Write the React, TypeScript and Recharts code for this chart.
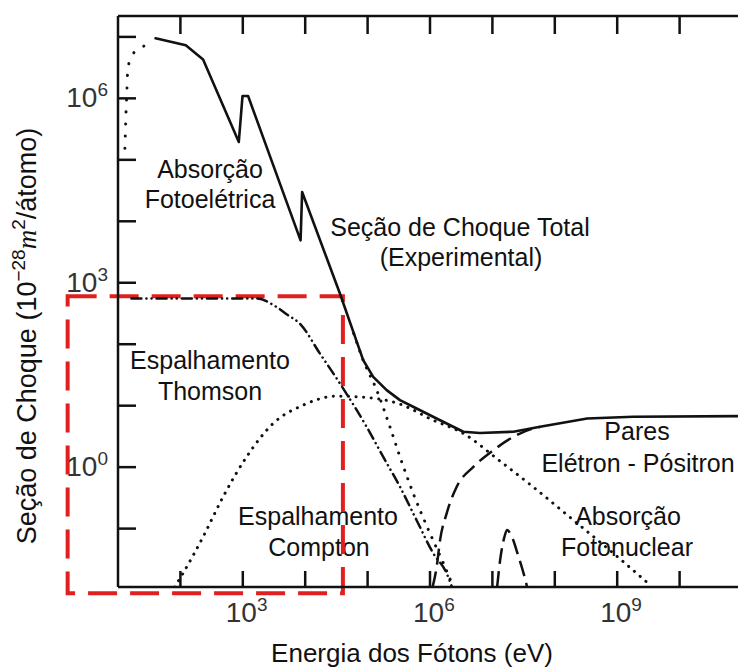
import { ComposedChart, Line, XAxis, YAxis, ReferenceArea } from "recharts";

// Photon energy (eV) and cross section (1e-28 m²/atom) for each process
const totalE = [40, 122, 231, 863, 989, 1216, 8430, 8930, 3.6e4, 8.5e4, 1.23e5, 2.02e5, 3.3e5, 6.1e5, 1.45e6, 3.42e6, 6.3e6, 2.17e7, 5.8e7, 3.3e8, 1.8e9, 8.7e10, 1e11];
const totalS = [9.5e6, 7.3e6, 4.3e6, 1.95e5, 1.09e6, 1.09e6, 4900, 3.0e4, 667, 55, 29.4, 17.9, 12.3, 9.0, 5.8, 3.77, 3.6, 3.77, 4.53, 6.2, 6.6, 6.75, 6.75];

const photoLowE = [12.9, 13.5, 13.9, 14.1, 15, 17.4, 26, 34.7];
const photoLowS = [1.54e5, 6.4e5, 1.32e6, 2.17e6, 3.75e6, 5.3e6, 7.1e6, 9.1e6];

const photoHighE = [6e4, 8.5e4, 1.4e5, 2.28e5, 3.3e5, 5.4e5, 1e6, 1.64e6, 2.37e6];
const photoHighS = [148, 55, 17.9, 4.52, 1.47, 0.373, 0.0835, 0.0272, 0.0112];

const thomsonE = [16.4, 1660, 3470, 5270, 8200, 1.72e4, 3.6e4, 9.66e4, 1.78e5, 3.3e5, 6.1e5, 1.13e6, 1.85e6, 2.25e6];
const thomsonS = [553, 553, 404, 298, 217, 70.6, 23, 4.52, 1.47, 0.479, 0.137, 0.0395, 0.0187, 0.0112];

const comptonE = [81, 110, 231, 483, 1150, 3060, 9270, 3.18e4, 7.5e4, 3.3e5, 1.13e6, 3.42e6, 1.33e7, 4.54e7, 1.99e8, 8.73e8, 3.39e9];
const comptonS = [0.0112, 0.0187, 0.0736, 0.329, 1.47, 5.13, 10.2, 14.3, 13.9, 10.6, 5.8, 3.53, 1.25, 0.473, 0.137, 0.0395, 0.012];

const pairE = [1.1e6, 1.28e6, 1.45e6, 1.85e6, 2.68e6, 4.96e6, 1.04e7, 2.17e7, 4.54e7, 5.8e7];
const pairS = [0.0112, 0.0239, 0.065, 0.177, 0.479, 1.01, 1.89, 3.11, 4.26, 4.5];

const nuclearE = [1.19e7, 1.33e7, 1.54e7, 1.72e7, 2.0e7, 2.58e7, 3.22e7, 3.6e7];
const nuclearS = [0.0112, 0.0307, 0.07, 0.0946, 0.078, 0.037, 0.0175, 0.0112];

const xTicks = [1e2, 1e3, 1e4, 1e5, 1e6, 1e7, 1e8, 1e9, 1e10];
const yTicks = [1e-1, 1, 1e1, 1e2, 1e3, 1e4, 1e5, 1e6, 1e7];
const xLabelExps = [3, 6, 9];
const yLabelExps = [0, 3, 6];

// highlighted low-energy region (Thomson scattering)
const boxE = [1.56, 4.02e4];
const boxS = [0.0089, 603];

const xDomain = [10, 1e11];
const yDomain = [Math.pow(10, -1.95), Math.pow(10, 7.34)];

// chart geometry (plot box runs from PLOT_LEFT to PLOT_RIGHT, top frame at PLOT_TOP)
const CHART_W = 745;
const CHART_H = 668;
const MARGIN = { top: 0, right: 3, bottom: 21, left: 0 };
const Y_AXIS_W = 118;
const TOP_AXIS_H = 16;
const PLOT_LEFT = MARGIN.left + Y_AXIS_W;
const PLOT_RIGHT = CHART_W - MARGIN.right;
const PLOT_TOP = MARGIN.top + TOP_AXIS_H;

const FONT = '"Liberation Sans", Arial, sans-serif';
const INK = "#111";
const TICK_TEXT = "#333";
const RED = "#e0201e";

const toPoints = (e: number[], s: number[]) => e.map((v, i) => ({ e: v, s: s[i] }));

const expOf = (v: number) => Math.round(Math.log10(v));

// same log mapping as the x axis, used for the marks on the top frame
const logX = (v: number) => {
  const lo = Math.log10(xDomain[0]);
  const hi = Math.log10(xDomain[1]);
  return PLOT_LEFT + ((Math.log10(v) - lo) / (hi - lo)) * (PLOT_RIGHT - PLOT_LEFT);
};

function BottomTick({ x, y, payload }: any) {
  const exp = expOf(payload.value);
  return (
    <g>
      <path d={`M${x},${y}v-16`} stroke={INK} strokeWidth={2.5} />
      {xLabelExps.includes(exp) && (
        <text x={x - 17} y={y + 35} fill={TICK_TEXT} style={{ fontFamily: FONT, fontSize: 28 }}>
          10<tspan dy={-11} style={{ fontSize: 19 }}>{exp}</tspan>
        </text>
      )}
    </g>
  );
}

function LeftTick({ x, y, payload }: any) {
  const exp = expOf(payload.value);
  return (
    <g>
      <path d={`M${x},${y}h18`} stroke={INK} strokeWidth={2.5} />
      {yLabelExps.includes(exp) && (
        <text x={x - 10} y={y + 9} textAnchor="end" fill={TICK_TEXT} style={{ fontFamily: FONT, fontSize: 28 }}>
          10<tspan dy={-11} style={{ fontSize: 19 }}>{exp}</tspan>
        </text>
      )}
    </g>
  );
}

const notes = [
  { x: 210, y: 178, text: "Absorção" },
  { x: 210, y: 208, text: "Fotoelétrica" },
  { x: 460, y: 236, text: "Seção de Choque Total" },
  { x: 461, y: 266, text: "(Experimental)" },
  { x: 210, y: 369, text: "Espalhamento" },
  { x: 210, y: 400, text: "Thomson" },
  { x: 318, y: 525, text: "Espalhamento" },
  { x: 319, y: 556, text: "Compton" },
  { x: 637, y: 440, text: "Pares" },
  { x: 638, y: 472, text: "Elétron - Pósitron" },
  { x: 628, y: 525, text: "Absorção" },
  { x: 627, y: 556, text: "Fotonuclear" },
];

export default function App() {
  const lineProps = {
    xAxisId: "bottom",
    yAxisId: "left",
    dataKey: "s",
    stroke: INK,
    dot: false,
    activeDot: false,
    isAnimationActive: false,
    strokeLinecap: "round" as const,
  };

  return (
    <div style={{ position: "absolute", left: 0, top: 0, width: 738, height: 668, overflow: "hidden", background: "#fff" }}>
      <svg width={738} height={668} style={{ position: "absolute", left: 0, top: 0 }}>
        {notes.map((n, i) => (
          <text key={i} x={n.x} y={n.y} textAnchor="middle" fontFamily={FONT} fontSize={25} fill={INK}>
            {n.text}
          </text>
        ))}
        <text x={412} y={662} textAnchor="middle" fontFamily={FONT} fontSize={26} fill={INK}>
          Energia dos Fótons (eV)
        </text>
        <text transform="translate(36,336) rotate(-90)" textAnchor="middle" fontFamily={FONT} fontSize={27} fill={INK}>
          Seção de Choque (10
          <tspan dy={-11} fontSize={19}>−28</tspan>
          <tspan dy={11} fontFamily='"Liberation Serif", serif' fontStyle="italic">m</tspan>
          <tspan dy={-11} fontSize={19}>2</tspan>
          <tspan dy={11}>/átomo)</tspan>
        </text>
      </svg>
      <div style={{ position: "absolute", left: 0, top: 0 }}>
        <ComposedChart width={CHART_W} height={CHART_H} margin={MARGIN}>
          <XAxis
            xAxisId="bottom"
            dataKey="e"
            type="number"
            scale="log"
            domain={xDomain}
            allowDataOverflow
            ticks={xTicks}
            interval={0}
            height={60}
            tickSize={0}
            tickMargin={0}
            tickLine={false}
            axisLine={{ stroke: INK, strokeWidth: 2.5 }}
            tick={BottomTick}
          />
          <XAxis
            xAxisId="top"
            orientation="top"
            dataKey="e"
            type="number"
            scale="log"
            domain={xDomain}
            allowDataOverflow
            height={TOP_AXIS_H}
            tickLine={false}
            tick={false}
            axisLine={{ stroke: INK, strokeWidth: 2.5 }}
          />
          <YAxis
            yAxisId="left"
            dataKey="s"
            type="number"
            scale="log"
            domain={yDomain}
            allowDataOverflow
            ticks={yTicks}
            interval={0}
            width={Y_AXIS_W}
            tickSize={0}
            tickMargin={0}
            tickLine={false}
            axisLine={{ stroke: INK, strokeWidth: 2.5 }}
            tick={LeftTick}
          />
          <Line {...lineProps} data={toPoints(photoLowE, photoLowS)} type="monotone" strokeWidth={3} strokeDasharray="0.1 12" />
          <Line {...lineProps} data={toPoints(photoHighE, photoHighS)} type="monotone" strokeWidth={3} strokeDasharray="0.1 9" />
          <Line {...lineProps} data={toPoints(comptonE, comptonS)} type="monotone" strokeWidth={3} strokeDasharray="0.1 7.5" />
          <Line {...lineProps} data={toPoints(thomsonE, thomsonS)} type="monotone" strokeWidth={2.5} strokeDasharray="10 5 0.1 5 0.1 5" />
          <Line {...lineProps} data={toPoints(pairE, pairS)} type="monotone" strokeWidth={2.5} strokeDasharray="16 7" strokeLinecap="butt" />
          <Line {...lineProps} data={toPoints(nuclearE, nuclearS)} type="monotone" strokeWidth={2.5} strokeDasharray="16 7" strokeLinecap="butt" />
          <Line {...lineProps} data={toPoints(totalE, totalS)} type="linear" strokeWidth={2.6} strokeLinejoin="round" />
          <ReferenceArea
            xAxisId="bottom"
            yAxisId="left"
            x1={boxE[0]}
            x2={boxE[1]}
            y1={boxS[0]}
            y2={boxS[1]}
            ifOverflow="visible"
            fill="none"
            fillOpacity={0}
            stroke={RED}
            strokeWidth={4}
            strokeDasharray="29 13"
          />
        </ComposedChart>
      </div>
      {/* decade marks hanging from the top frame, drawn above the chart */}
      <svg width={738} height={60} style={{ position: "absolute", left: 0, top: 0, pointerEvents: "none" }}>
        {xTicks.map((t) => (
          <path key={t} d={`M${logX(t)},${PLOT_TOP}v18`} stroke={INK} strokeWidth={2.5} />
        ))}
      </svg>
    </div>
  );
}
